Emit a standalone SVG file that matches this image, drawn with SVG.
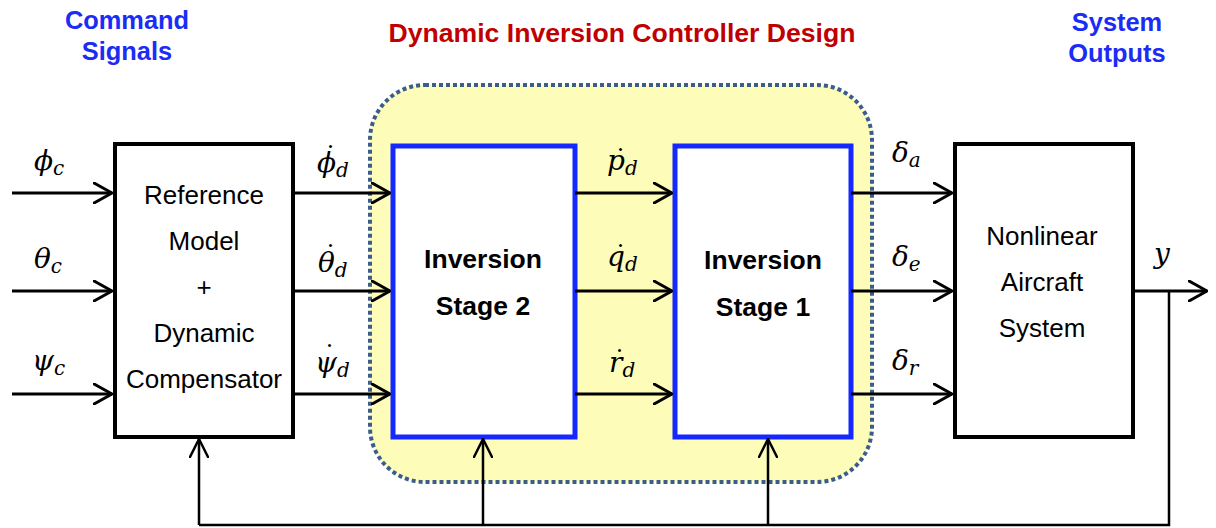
<svg xmlns="http://www.w3.org/2000/svg" width="1216" height="528" viewBox="0 0 1216 528">
<defs>
<marker id="ah" viewBox="0 0 20 22" refX="19" refY="11" markerWidth="20" markerHeight="22" markerUnits="userSpaceOnUse" orient="auto">
<path d="M1,1 L19,11 L1,21" fill="none" stroke="#000" stroke-width="3" stroke-linecap="round" stroke-linejoin="round"/>
</marker>
<marker id="ah2" viewBox="0 0 20 20" refX="19" refY="10" markerWidth="20" markerHeight="20" markerUnits="userSpaceOnUse" orient="auto">
<path d="M1,1 L19,10 L1,19" fill="none" stroke="#000" stroke-width="2.5" stroke-linecap="round" stroke-linejoin="round"/>
</marker>
</defs>
<style>
.hd{font-family:"Liberation Sans",Arial,sans-serif;font-weight:bold;font-size:25.4px;text-anchor:middle}
.ttl{font-size:26.6px}
.blue{fill:#1a2cf5}
.red{fill:#c00000}
.box{fill:#fff;stroke:#000;stroke-width:4}
.bbox{fill:#fff;stroke:#1428ff;stroke-width:5}
.t{font-family:"Liberation Sans",Arial,sans-serif;font-size:26px;text-anchor:middle;fill:#000}
.tb{font-family:"Liberation Sans",Arial,sans-serif;font-size:26.5px;font-weight:bold;text-anchor:middle;fill:#000}
.m{font-family:"DejaVu Serif","Liberation Serif",serif;font-style:italic;font-size:28px;fill:#000}
.s{font-size:20px}
.dot{font-style:normal;font-size:26px}
.w{fill:none;stroke:#000;stroke-width:3;marker-end:url(#ah)}
.f{fill:none;stroke:#000;stroke-width:2.5}
.fa{fill:none;stroke:#000;stroke-width:2.5;marker-end:url(#ah2)}
</style>
<rect id="controller-region" x="370" y="85" width="502" height="397" rx="55" ry="55" fill="#fdfdb9" stroke="#3b5d8a" stroke-width="4" stroke-dasharray="4 3"/>
<text class="hd blue" x="127" y="29">Command</text>
<text class="hd blue" x="127" y="60">Signals</text>
<text class="hd ttl red" x="622" y="42">Dynamic Inversion Controller Design</text>
<text class="hd blue" x="1117" y="31">System</text>
<text class="hd blue" x="1117" y="62">Outputs</text>
<g id="reference-model">
<rect class="box" x="115" y="144" width="178" height="293"/>
<text class="t" x="204" y="204">Reference</text>
<text class="t" x="204" y="250">Model</text>
<text class="t" x="204" y="296">+</text>
<text class="t" x="204" y="342">Dynamic</text>
<text class="t" x="204" y="388">Compensator</text>
</g>
<g id="inversion-stage-2">
<rect class="bbox" x="393" y="146" width="182" height="291"/>
<text class="tb" x="483" y="268">Inversion</text>
<text class="tb" x="483" y="315">Stage 2</text>
</g>
<g id="inversion-stage-1">
<rect class="bbox" x="675" y="146" width="176" height="291"/>
<text class="tb" x="763" y="269">Inversion</text>
<text class="tb" x="763" y="316">Stage 1</text>
</g>
<g id="nonlinear-aircraft">
<rect class="box" x="955" y="144" width="178" height="293"/>
<text class="t" x="1042" y="245">Nonlinear</text>
<text class="t" x="1042" y="291">Aircraft</text>
<text class="t" x="1042" y="337">System</text>
</g>
<g id="connectors">
<line class="w" x1="12" y1="193" x2="112" y2="193"/>
<line class="w" x1="12" y1="291" x2="112" y2="291"/>
<line class="w" x1="12" y1="394" x2="112" y2="394"/>
<line class="w" x1="293" y1="193" x2="390" y2="193"/>
<line class="w" x1="293" y1="291" x2="390" y2="291"/>
<line class="w" x1="293" y1="394" x2="390" y2="394"/>
<line class="w" x1="575" y1="193" x2="672" y2="193"/>
<line class="w" x1="575" y1="291" x2="672" y2="291"/>
<line class="w" x1="575" y1="394" x2="672" y2="394"/>
<line class="w" x1="851" y1="193" x2="952" y2="193"/>
<line class="w" x1="851" y1="291" x2="952" y2="291"/>
<line class="w" x1="851" y1="394" x2="952" y2="394"/>
<line class="w" x1="1133" y1="291" x2="1207" y2="291"/>
<polyline class="f" points="1169,291 1169,525 199,525"/>
<line class="fa" x1="199" y1="525" x2="199" y2="439"/>
<line class="fa" x1="483" y1="525" x2="483" y2="439"/>
<line class="fa" x1="768" y1="525" x2="768" y2="439"/>
</g>
<g id="labels">
<text class="m" x="34" y="170">ϕ<tspan class="s" dy="5">c</tspan></text>
<text class="m" x="34" y="268">θ<tspan class="s" dy="5">c</tspan></text>
<text class="m" x="32" y="370">ψ<tspan class="s" dy="5">c</tspan></text>
<text class="m" x="317" y="172">ϕ<tspan class="s" dy="5">d</tspan><tspan class="dot" x="324" y="165">˙</tspan></text>
<text class="m" x="318" y="272">θ<tspan class="s" dy="5">d</tspan><tspan class="dot" x="324" y="264">˙</tspan></text>
<text class="m" x="315" y="372">ψ<tspan class="s" dy="5">d</tspan><tspan class="dot" x="323" y="364">˙</tspan></text>
<text class="m" x="607" y="170">p<tspan class="s" dy="5">d</tspan><tspan class="dot" x="614" y="168">˙</tspan></text>
<text class="m" x="607" y="266">q<tspan class="s" dy="5">d</tspan><tspan class="dot" x="614" y="264">˙</tspan></text>
<text class="m" x="609" y="372">r<tspan class="s" dy="5">d</tspan><tspan class="dot" x="613" y="369">˙</tspan></text>
<text class="m" x="892" y="162">δ<tspan class="s" dy="5">a</tspan></text>
<text class="m" x="892" y="266">δ<tspan class="s" dy="5">e</tspan></text>
<text class="m" x="892" y="370">δ<tspan class="s" dy="5">r</tspan></text>
<text class="m" x="1154" y="263">y</text>
</g>
</svg>
